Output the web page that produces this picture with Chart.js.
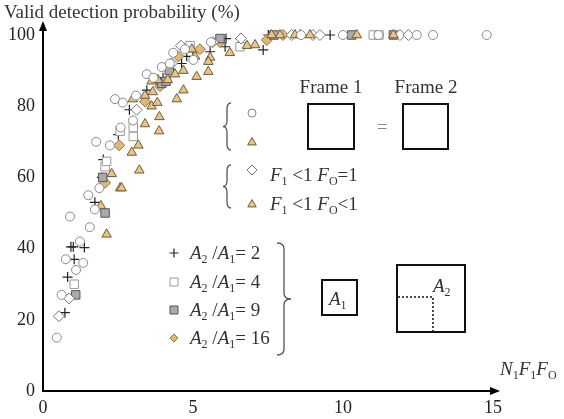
<!DOCTYPE html>
<html>
<head>
<meta charset="utf-8">
<script src="https://cdn.jsdelivr.net/npm/chart.js@4.4.1/dist/chart.umd.min.js"></script>
<style>
  html, body { margin: 0; padding: 0; background: #fff; }
</style>
</head>
<body>
<canvas id="chart" width="564" height="419"></canvas>
<script>
const xTicks = [0, 5, 10, 15];
const yTicks = [0, 20, 40, 60, 80, 100];

// Frame 1 = Frame 2
const circlePts = [[0.46,15],[0.62,27],[0.76,37],[1.1,34],[1.34,36],[1.23,42],[1.56,46],[0.9,49],[1.73,51],[1.51,55],[1.88,57],[1.77,70],[2.23,69],[2.59,74],[3.0,76],[2.4,82],[2.66,81],[3.1,83],[3.46,89],[3.68,88],[3.96,91],[4.23,92],[4.34,95],[4.73,96],[5.01,93],[5.6,98],[8.6,100],[10.0,100],[11.18,100],[12.46,100],[13.0,100],[14.79,100]];
const trianglePts = [[2.12,44],[1.93,52],[2.57,57],[2.62,57],[2.29,61],[3.21,62],[2.96,67],[3.18,69],[3.4,75],[3.88,77],[3.87,73],[2.99,82],[3.62,80],[3.81,81],[3.4,83],[3.66,84],[4.46,82],[4.68,84.5],[3.62,87],[3.83,87.4],[4.16,87.4],[4.4,89],[4.68,90],[5.12,88.3],[5.51,89.7],[5.07,94],[5.57,93.7],[5.51,92.5],[4.96,96],[6.23,95],[6.8,97],[7.07,97.2],[7.62,100],[7.9,100],[8.4,100],[8.57,100],[8.9,100],[10.46,100],[11.68,100]];
// F1<1 FO=1
const diamondPts = [[0.53,21],[0.87,26],[3.12,79],[4.29,92],[4.6,97],[5.66,98],[6.6,99],[8.29,100],[9.0,100],[9.23,100],[11.9,100],[12.18,100]];
// A2/A1 = 2, 4, 9, 16
const plusPts = [[0.73,22],[0.82,32],[1.04,37],[0.93,40.5],[1.01,40.5],[1.38,40.3],[1.73,53],[1.96,60],[2.01,65],[2.51,72],[2.88,79],[3.46,84.5],[4.0,88],[4.62,92],[4.79,94],[5.0,95.3],[5.57,95.3],[6.07,96.7],[6.1,99],[6.57,99],[7.34,95.8],[7.51,100],[9.57,100]];
const squarePts = [[1.04,30],[2.07,63],[2.12,64.5],[2.57,73],[3.01,74],[3.01,71.5],[4.9,97],[6.57,96.7],[11.01,100],[11.2,100]];
const greySquarePts = [[1.09,27],[2.07,50],[1.99,60],[3.96,86.4],[4.1,87],[4.21,90],[5.9,99],[7.7,100],[10.29,100],[11.68,100]];
const tanDiamondPts = [[2.07,58.5],[2.54,69],[3.4,81.3],[3.9,85.6],[4.51,94],[5.23,96],[5.9,98],[7.46,98.6],[8.0,100]];

const SERIF = '"Liberation Serif", "Times New Roman", serif';
const TEXT = '#333';

const toXY = pts => pts.map(([x, y]) => ({ x, y }));

const markers = {
  circle:    { pointStyle: 'circle',   radius: 4.5, bg: '#fff',    border: '#8a8a8a', lw: 1 },
  triangle:  { pointStyle: 'triangle', radius: 5.5, bg: '#e8c38a', border: '#6f5c38', lw: 1 },
  diamond:   { pointStyle: 'rectRot',  radius: 5.5, bg: '#fff',    border: '#777',    lw: 1 },
  plus:      { pointStyle: 'cross',    radius: 5,   bg: '#222',    border: '#222',    lw: 1.2 },
  square:    { pointStyle: 'rect',     radius: 6,   bg: '#fff',    border: '#999',    lw: 1 },
  greySq:    { pointStyle: 'rect',     radius: 6,   bg: '#aaa',    border: '#555',    lw: 1 },
  tanDiam:   { pointStyle: 'rectRot',  radius: 5.5, bg: '#e2b878', border: '#8a7448', lw: 1 }
};

function dataset(pts, m) {
  const s = markers[m];
  return {
    data: toXY(pts),
    pointStyle: s.pointStyle,
    pointRadius: s.radius,
    backgroundColor: s.bg,
    borderColor: s.border,
    borderWidth: s.lw,
    clip: false
  };
}

function drawMarker(ctx, m, x, y, r) {
  const s = markers[m];
  ctx.save();
  ctx.fillStyle = s.bg; ctx.strokeStyle = s.border; ctx.lineWidth = s.lw;
  ctx.beginPath();
  if (s.pointStyle === 'circle') {
    ctx.arc(x, y, r, 0, Math.PI * 2);
  } else if (s.pointStyle === 'triangle') {
    ctx.moveTo(x, y - r); ctx.lineTo(x + r * 0.95, y + r * 0.65); ctx.lineTo(x - r * 0.95, y + r * 0.65); ctx.closePath();
  } else if (s.pointStyle === 'rectRot') {
    ctx.moveTo(x, y - r); ctx.lineTo(x + r, y); ctx.lineTo(x, y + r); ctx.lineTo(x - r, y); ctx.closePath();
  } else if (s.pointStyle === 'rect') {
    ctx.rect(x - r, y - r, 2 * r, 2 * r);
  } else if (s.pointStyle === 'cross') {
    ctx.moveTo(x - r, y); ctx.lineTo(x + r, y); ctx.moveTo(x, y - r); ctx.lineTo(x, y + r);
    ctx.stroke(); ctx.restore(); return;
  }
  ctx.fill(); ctx.stroke();
  ctx.restore();
}

// text pieces: i = italic, r = roman, s = subscript
function rich(ctx, x, y, parts, size) {
  let cx = x;
  for (const [t, k] of parts) {
    const sub = k === 's';
    ctx.font = (k === 'i' ? 'italic ' : '') + (sub ? Math.round(size * 0.62) : size) + 'px ' + SERIF;
    ctx.fillText(t, cx, sub ? y + size * 0.22 : y);
    cx += ctx.measureText(t).width;
  }
}

function brace(ctx, x, y1, y2, dir, w) {
  const ym = (y1 + y2) / 2, h = x + dir * w / 2, r = Math.min(6, (y2 - y1) / 6);
  ctx.beginPath();
  ctx.moveTo(x, y1);
  ctx.quadraticCurveTo(h, y1, h, y1 + r);
  ctx.lineTo(h, ym - r);
  ctx.quadraticCurveTo(h, ym, x + dir * w, ym);
  ctx.quadraticCurveTo(h, ym, h, ym + r);
  ctx.lineTo(h, y2 - r);
  ctx.quadraticCurveTo(h, y2, x, y2);
  ctx.stroke();
}

const axesPlugin = {
  id: 'arrowAxes',
  beforeDatasetsDraw(chart) {
    const ctx = chart.ctx;
    const { left, right, top, bottom } = chart.chartArea;
    ctx.save();
    ctx.strokeStyle = '#000';
    ctx.fillStyle = '#000';
    ctx.lineWidth = 2;
    ctx.beginPath(); ctx.moveTo(left, bottom); ctx.lineTo(right, bottom); ctx.stroke();
    ctx.beginPath(); ctx.moveTo(right + 7, bottom); ctx.lineTo(right - 3, bottom - 4); ctx.lineTo(right - 3, bottom + 4); ctx.closePath(); ctx.fill();
    ctx.beginPath(); ctx.moveTo(left, bottom + 1); ctx.lineTo(left, top - 6); ctx.stroke();
    ctx.beginPath(); ctx.moveTo(left, top - 14); ctx.lineTo(left - 4, top - 4); ctx.lineTo(left + 4, top - 4); ctx.closePath(); ctx.fill();
    ctx.restore();
  }
};

const notesPlugin = {
  id: 'notes',
  afterDraw(chart) {
    const ctx = chart.ctx;
    ctx.save();
    ctx.fillStyle = TEXT;
    ctx.textAlign = 'left';
    ctx.textBaseline = 'alphabetic';

    ctx.font = '19px ' + SERIF;
    ctx.fillText('Valid detection probability (%)', 4, 18);
    rich(ctx, 500, 375, [['N', 'i'], ['1', 's'], ['F', 'i'], ['1', 's'], ['F', 'i'], ['O', 's']], 19);

    // frame comparison
    ctx.font = '19px ' + SERIF;
    ctx.textAlign = 'center';
    ctx.fillText('Frame 1', 331, 93);
    ctx.fillText('Frame 2', 426, 93);
    ctx.fillStyle = '#888';
    ctx.fillText('=', 382, 133);
    ctx.textAlign = 'left';
    ctx.strokeStyle = '#111';
    ctx.lineWidth = 2;
    ctx.strokeRect(308, 104, 46, 45);
    ctx.strokeRect(403, 104, 45, 45);

    ctx.strokeStyle = '#555';
    ctx.lineWidth = 1.3;
    brace(ctx, 231, 103, 150, -1, 8);
    brace(ctx, 231, 165, 208, -1, 8);
    brace(ctx, 277, 243, 355, 1, 14);

    drawMarker(ctx, 'circle', 252, 113, 4);
    drawMarker(ctx, 'triangle', 252, 142, 4.5);
    drawMarker(ctx, 'diamond', 252, 170, 5);
    drawMarker(ctx, 'triangle', 252, 204, 4.5);

    ctx.fillStyle = TEXT;
    rich(ctx, 270, 181, [['F', 'i'], ['1', 's'], [' <1 ', 'r'], ['F', 'i'], ['O', 's'], ['=1', 'r']], 19);
    rich(ctx, 270, 210, [['F', 'i'], ['1', 's'], [' <1 ', 'r'], ['F', 'i'], ['O', 's'], ['<1', 'r']], 19);

    // area ratio legend
    const ratios = ['2', '4', '9', '16'];
    const kinds = ['plus', 'square', 'greySq', 'tanDiam'];
    const rows = [253, 282, 310, 338];
    ratios.forEach((v, i) => {
      drawMarker(ctx, kinds[i], 174, rows[i], kinds[i] === 'plus' ? 4.5 : 4);
      ctx.fillStyle = TEXT;
      rich(ctx, 190, rows[i] + 6, [['A', 'i'], ['2', 's'], [' /', 'r'], ['A', 'i'], ['1', 's'], ['= ' + v, 'r']], 19);
    });

    ctx.strokeStyle = '#111';
    ctx.lineWidth = 2;
    ctx.strokeRect(322, 280, 35, 35);
    ctx.strokeRect(397, 265, 68, 67);
    ctx.setLineDash([2, 2]);
    ctx.lineWidth = 1.5;
    ctx.beginPath();
    ctx.moveTo(398, 297); ctx.lineTo(433, 297); ctx.lineTo(433, 331);
    ctx.stroke();
    ctx.setLineDash([]);
    ctx.fillStyle = TEXT;
    rich(ctx, 329, 305, [['A', 'i'], ['1', 's']], 19);
    rich(ctx, 433, 292, [['A', 'i'], ['2', 's']], 19);
    ctx.restore();
  }
};

new Chart(document.getElementById('chart'), {
  type: 'scatter',
  data: {
    datasets: [
      dataset(circlePts, 'circle'),
      dataset(trianglePts, 'triangle'),
      dataset(diamondPts, 'diamond'),
      dataset(squarePts, 'square'),
      dataset(greySquarePts, 'greySq'),
      dataset(tanDiamondPts, 'tanDiam'),
      dataset(plusPts, 'plus')
    ]
  },
  options: {
    responsive: false,
    animation: false,
    layout: { padding: { top: 35, right: 71, left: 0, bottom: 0 } },
    plugins: { legend: { display: false }, tooltip: { enabled: false } },
    scales: {
      x: {
        type: 'linear',
        min: 0,
        max: 15,
        afterBuildTicks: scale => { scale.ticks = xTicks.map(v => ({ value: v })); },
        afterFit: scale => { scale.height = 28; },
        grid: { display: false, drawTicks: false },
        border: { display: false },
        ticks: { padding: 6, color: '#222', font: { family: SERIF, size: 18 } }
      },
      y: {
        type: 'linear',
        min: 0,
        max: 100,
        afterBuildTicks: scale => { scale.ticks = yTicks.map(v => ({ value: v })); },
        afterFit: scale => { scale.width = 43; },
        grid: { display: false, drawTicks: false },
        border: { display: false },
        ticks: { padding: 8, color: '#222', font: { family: SERIF, size: 18 } }
      }
    }
  },
  plugins: [axesPlugin, notesPlugin]
});
</script>
</body>
</html>
